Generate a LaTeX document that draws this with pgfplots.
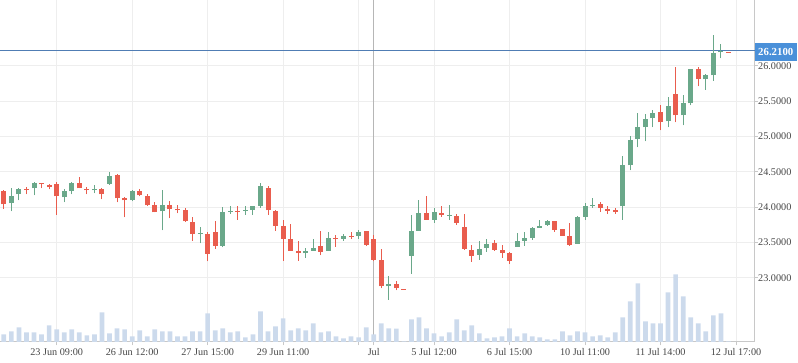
\documentclass[border=0pt]{standalone}
\usepackage{pgfplots}
\pgfplotsset{compat=1.18}
\usepackage{pgfplotstable}
\usepackage{fontspec}
\setmainfont{Liberation Serif}

\definecolor{gridgray}{RGB}{238,238,238}
\definecolor{axisgray}{RGB}{200,200,200}
\definecolor{chgray}{RGB}{182,182,182}
\definecolor{labelgray}{RGB}{70,70,70}
\definecolor{upgreen}{RGB}{106,168,138}
\definecolor{downred}{RGB}{233,93,78}
\definecolor{volblue}{RGB}{204,218,236}
\definecolor{lineblue}{RGB}{80,125,180}
\definecolor{labelblue}{RGB}{74,144,217}

\pgfplotstableread{
i o h l c
1 24.052 24.274 23.938 24.161
2 24.179 24.274 24.094 24.260
4 24.264 24.354 24.165 24.345
8 24.137 24.260 24.066 24.231
9 24.221 24.354 24.179 24.345
12 24.236 24.316 24.193 24.260
14 24.330 24.500 24.316 24.444
17 24.094 24.246 24.080 24.231
21 23.938 24.246 23.670 24.023
26 23.619 23.722 23.486 23.627
29 23.453 24.005 23.429 23.934
30 23.934 24.019 23.906 23.948
32 23.948 24.019 23.892 23.963
33 23.963 24.019 23.892 24.019
34 24.019 24.345 23.991 24.302
40 23.344 23.425 23.283 23.382
41 23.382 23.552 23.382 23.425
43 23.382 23.651 23.382 23.566
45 23.552 23.623 23.524 23.595
47 23.595 23.680 23.552 23.651
51 22.877 23.029 22.689 22.915
54 23.312 23.892 23.057 23.665
55 23.665 24.104 23.665 23.920
57 23.821 23.991 23.779 23.934
59 23.873 24.033 23.821 23.885
63 23.326 23.524 23.255 23.411
64 23.425 23.552 23.368 23.481
68 23.439 23.637 23.439 23.524
69 23.524 23.651 23.453 23.566
70 23.566 23.722 23.538 23.708
71 23.708 23.821 23.708 23.736
72 23.750 23.821 23.736 23.807
76 23.481 23.878 23.481 23.863
77 23.863 24.062 23.821 24.019
78 24.019 24.132 23.991 24.033
82 24.009 24.717 23.821 24.599
83 24.589 25.000 24.519 24.953
84 24.963 25.335 24.844 25.137
85 25.127 25.321 24.929 25.240
86 25.254 25.378 25.127 25.335
88 25.212 25.561 25.127 25.434
90 25.297 25.590 25.155 25.477
91 25.467 25.958 25.438 25.958
93 25.806 25.887 25.661 25.863
94 25.863 26.429 25.788 26.184
95 26.188 26.302 26.103 26.202
}\upcandles

\pgfplotstableread{
i o h l c
0 24.231 24.246 23.977 24.038
3 24.260 24.284 24.179 24.246
5 24.345 24.345 24.264 24.321
6 24.316 24.330 24.250 24.278
7 24.330 24.354 23.892 24.151
10 24.345 24.429 24.264 24.264
11 24.260 24.288 24.179 24.236
13 24.260 24.274 24.108 24.179
15 24.448 24.462 24.066 24.122
16 24.122 24.137 23.854 24.094
18 24.231 24.260 24.151 24.165
19 24.161 24.189 24.015 24.023
20 24.023 24.076 23.924 23.924
22 24.023 24.090 23.839 23.967
23 23.967 24.033 23.910 23.953
24 23.963 23.991 23.789 23.797
25 23.793 23.863 23.524 23.619
27 23.623 23.651 23.231 23.336
28 23.651 23.807 23.411 23.453
31 23.948 24.019 23.821 23.934
35 24.274 24.302 23.892 23.953
36 23.948 23.963 23.665 23.736
37 23.736 23.821 23.241 23.552
38 23.552 23.764 23.382 23.382
39 23.382 23.524 23.241 23.344
42 23.453 23.665 23.316 23.368
44 23.566 23.609 23.439 23.556
46 23.595 23.651 23.552 23.580
48 23.665 23.665 23.453 23.467
49 23.552 23.609 23.231 23.255
50 23.255 23.411 22.849 22.877
52 22.915 22.958 22.821 22.849
53 22.845 22.845 22.835 22.835
56 23.920 24.161 23.821 23.821
58 23.920 24.019 23.863 23.892
60 23.878 23.906 23.750 23.779
61 23.722 23.906 23.397 23.411
62 23.397 23.467 23.227 23.312
65 23.496 23.538 23.382 23.397
66 23.397 23.467 23.283 23.354
67 23.354 23.368 23.198 23.241
73 23.807 23.807 23.651 23.680
74 23.694 23.694 23.595 23.595
75 23.595 23.779 23.453 23.467
79 24.047 24.076 23.934 23.991
80 23.977 24.019 23.906 23.948
81 23.963 23.991 23.906 23.934
87 25.349 25.448 25.085 25.198
89 25.604 25.986 25.198 25.297
92 25.958 25.986 25.707 25.806
96 26.200 26.200 26.188 26.188
}\downcandles

\pgfplotstableread{
i v
0 23
1 32
2 44
3 29
4 29
5 23
6 50
7 38
8 29
9 38
10 29
11 20
12 23
13 89
14 26
15 41
16 38
17 17
18 35
19 17
20 38
21 32
22 32
23 17
24 17
25 32
26 32
27 86
28 35
29 41
30 29
31 32
32 14
33 23
34 92
35 32
36 47
37 71
38 35
39 41
40 35
41 56
42 29
43 32
44 17
45 11
46 17
47 14
48 44
49 23
50 56
51 41
52 40
53 2
54 68
55 74
56 41
57 26
58 17
59 29
60 68
61 35
62 50
63 26
64 11
65 14
66 17
67 41
68 17
69 26
70 17
71 14
72 8
73 8
74 32
75 20
76 32
77 29
78 17
79 20
80 14
81 29
82 74
83 122
84 176
85 62
86 56
87 56
88 149
89 203
90 137
91 74
92 56
93 32
94 80
95 86
96 2
}\volumes

\begin{document}
\begin{tikzpicture}
\useasboundingbox (0,0) rectangle (798pt,363pt);
\pgfplotsset{base/.style={at={(0pt,21pt)}, anchor=south west, scale only axis,
  width=754.5pt, height=342pt, xmin=-0.51, xmax=99.45}}
% axis, grid, labels
\begin{axis}[base, ymin=22.090, ymax=26.930,
  axis x line*=bottom, axis y line*=right,
  axis line style={-, draw=axisgray, line width=1pt},
  xtick={7,17,27,37,47,57,67,77,87,97},
  xticklabels={23 Jun 09:00, 26 Jun 12:00, 27 Jun 15:00, 29 Jun 11:00, {}, 5 Jul 12:00, 6 Jul 15:00, 10 Jul 11:00, 11 Jul 14:00, 12 Jul 17:00},
  extra x ticks={49}, extra x tick labels={Jul},
  extra x tick style={grid=major, major grid style={draw=chgray, line width=1.1pt}},
  ytick={23,23.5,24,24.5,25,25.5,26},
  yticklabels={23.0000,23.5000,24.0000,24.5000,25.0000,25.5000,26.0000},
  grid=major, major grid style={draw=gridgray, line width=1pt},
  tick align=outside, major tick length=3.5pt,
  tick style={draw=axisgray, line width=1pt},
  ticklabel style={font=\fontsize{10.2}{12}\selectfont, text=labelgray, inner sep=0pt},
  xticklabel style={anchor=north, yshift=-2.8pt},
  yticklabel style={anchor=west},
]
\coordinate (pll) at (axis cs:-0.51,26.21);
\coordinate (pl) at (axis cs:99.45,26.21);
\end{axis}
\draw[lineblue, line width=1pt] (pll) -- (pl);
% volume
\begin{axis}[base, ymin=0, ymax=1026, hide axis]
\addplot[ybar, bar width=4.7pt, fill=volblue, draw=none] table[x=i, y=v] {\volumes};
\end{axis}
% candles
\begin{axis}[base, ymin=22.090, ymax=26.930, hide axis]
\addplot[draw=none, error bars/.cd, y dir=plus, y explicit, error mark=none,
  error bar style={draw=upgreen, line width=1pt}]
  table[x=i, y=l, y error plus expr=\thisrow{h}-\thisrow{l}] {\upcandles};
\addplot[draw=none, error bars/.cd, y dir=plus, y explicit, error mark=none,
  error bar style={draw=upgreen, line width=5pt}]
  table[x=i, y=o, y error plus expr=\thisrow{c}-\thisrow{o}] {\upcandles};
\addplot[draw=none, error bars/.cd, y dir=plus, y explicit, error mark=none,
  error bar style={draw=downred, line width=1pt}]
  table[x=i, y=l, y error plus expr=\thisrow{h}-\thisrow{l}] {\downcandles};
\addplot[draw=none, error bars/.cd, y dir=plus, y explicit, error mark=none,
  error bar style={draw=downred, line width=5pt}]
  table[x=i, y=c, y error plus expr=\thisrow{o}-\thisrow{c}] {\downcandles};
\end{axis}
\node[fill=labelblue, text=white, font=\bfseries\fontsize{10.8}{12}\selectfont,
  anchor=west, inner xsep=3.2pt, inner ysep=0pt, minimum height=18pt,
  xshift=0.3pt, yshift=-1.4pt] at (pl) {26.2100};
\end{tikzpicture}
\end{document}
